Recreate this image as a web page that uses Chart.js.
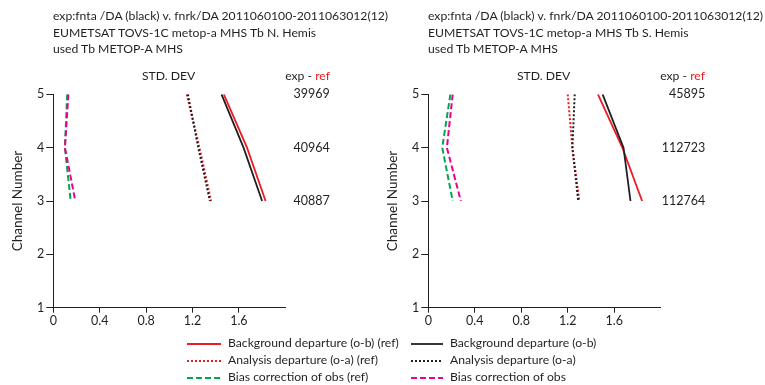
<!DOCTYPE html>
<html>
<head>
<meta charset="utf-8">
<script src="https://cdn.jsdelivr.net/npm/chart.js@4/dist/chart.umd.min.js"></script>
<style>
body { margin:0; width:765px; height:385px; background:#fff; font-family: Lato, sans-serif; color:#231f20; position:relative; overflow:hidden; }
canvas { position:absolute; top:0; }
.t { position:absolute; font-size:12.2px; line-height:16.5px; white-space:nowrap; }
.lg { position:absolute; font-size:12.2px; white-space:nowrap; }
.lg div { height:17px; line-height:17px; }
.lg svg { vertical-align:middle; margin-right:7px; }
</style>
</head>
<body>
<canvas id="nh" width="380" height="385" style="left:0"></canvas>
<canvas id="sh" width="385" height="385" style="left:380px"></canvas>

<div class="t" style="left:53px;top:8px">exp:fnta /DA (black) v. fnrk/DA 2011060100-2011063012(12)<br>EUMETSAT TOVS-1C metop-a MHS Tb N. Hemis<br>used Tb METOP-A MHS</div>
<div class="t" style="left:428px;top:8px">exp:fnta /DA (black) v. fnrk/DA 2011060100-2011063012(12)<br>EUMETSAT TOVS-1C metop-a MHS Tb S. Hemis<br>used Tb METOP-A MHS</div>
<div class="t" style="left:142px;top:68px">STD. DEV</div>
<div class="t" style="left:517px;top:68px">STD. DEV</div>
<div class="t" style="right:435px;top:68px">exp - <span style="color:#ed1c24">ref</span></div>
<div class="t" style="right:60px;top:68px">exp - <span style="color:#ed1c24">ref</span></div>
<div class="lg" id="lgLeft" style="left:187px;top:334px"></div>
<div class="lg" id="lgRight" style="left:411px;top:334px"></div>

<script>
var channels = [5, 4, 3];
var xTicks = [0, 0.4, 0.8, 1.2, 1.6];

// N. Hemis
var nhBgRef = [1.47, 1.67, 1.83];
var nhBgExp = [1.45, 1.64, 1.80];
var nhAnRef = [1.15, 1.26, 1.36];
var nhAnExp = [1.16, 1.25, 1.35];
var nhBcRef = [0.12, 0.10, 0.15];
var nhBcExp = [0.13, 0.10, 0.19];
var nhCounts = ["39969", "40964", "40887"];

// S. Hemis
var shBgRef = [1.46, 1.67, 1.84];
var shBgExp = [1.50, 1.68, 1.74];
var shAnRef = [1.20, 1.24, 1.30];
var shAnExp = [1.26, 1.24, 1.29];
var shBcRef = [0.19, 0.12, 0.21];
var shBcExp = [0.21, 0.16, 0.28];
var shCounts = ["45895", "112723", "112764"];

var RED = '#ed1c24', BLACK = '#231f20', GREEN = '#00a651', MAGENTA = '#ec008c';
var styles = {
    bgRef: { color: RED, dash: [], width: 1.8 },
    anRef: { color: RED, dash: [2, 2], width: 2 },
    bcRef: { color: GREEN, dash: [6, 3], width: 2 },
    bgExp: { color: BLACK, dash: [], width: 1.8 },
    anExp: { color: BLACK, dash: [2, 2], width: 2 },
    bcExp: { color: MAGENTA, dash: [6, 3], width: 2 }
};

Chart.defaults.font.family = 'Lato, sans-serif';
Chart.defaults.font.size = 12.5;
Chart.defaults.color = BLACK;

function pts(vals) {
    return channels.map(function(c, i) { return { x: vals[i], y: c }; });
}

function ds(vals, key) {
    var s = styles[key];
    return { data: pts(vals), borderColor: s.color, borderDash: s.dash, borderWidth: s.width,
             pointRadius: 0, showLine: true, fill: false, tension: 0 };
}

// counts drawn to the right of the plot, at channel positions
var countsPlugin = {
    id: 'counts',
    afterDraw: function(chart) {
        var counts = chart.options.plugins.counts.values;
        var ctx = chart.ctx, y = chart.scales.y;
        ctx.save();
        ctx.font = '12.5px Lato, sans-serif';
        ctx.fillStyle = BLACK;
        ctx.textAlign = 'right';
        ctx.textBaseline = 'middle';
        counts.forEach(function(c, i) {
            ctx.fillText(c, chart.chartArea.right + 44.5, y.getPixelForValue(channels[i]));
        });
        ctx.restore();
    }
};

function makePanel(id, series, counts, area, titlePad) {
    var cv = document.getElementById(id);
    var chart = new Chart(cv.getContext('2d'), {
        type: 'scatter',
        data: { datasets: [
            ds(series.bcExp, 'bcExp'), ds(series.bcRef, 'bcRef'),
            ds(series.anExp, 'anExp'), ds(series.anRef, 'anRef'),
            ds(series.bgExp, 'bgExp'), ds(series.bgRef, 'bgRef')
        ] },
        options: {
            responsive: false,
            animation: false,
            layout: { padding: { left: 0, right: cv.width - area.right, top: area.top, bottom: cv.height - area.bottom - 25 } },
            plugins: { legend: { display: false }, tooltip: { enabled: false }, counts: { values: counts } },
            scales: {
                x: {
                    type: 'linear', min: 0, max: 2,
                    afterBuildTicks: function(s) { s.ticks = xTicks.map(function(v) { return { value: v }; }); },
                    afterFit: function(s) { s.height = 25; },
                    ticks: { padding: 1, maxRotation: 0, callback: function(v) { return String(v); } },
                    grid: { drawOnChartArea: false, tickLength: 5, color: BLACK },
                    border: { color: BLACK, width: 1 }
                },
                y: {
                    type: 'linear', min: 1, max: 5,
                    afterFit: function(s) { s.width = area.left; },
                    ticks: { stepSize: 1, padding: 2 },
                    grid: { drawOnChartArea: false, tickLength: 7, color: BLACK },
                    border: { color: BLACK, width: 1 },
                    title: { display: true, text: 'Channel Number', font: { size: 13.5 }, padding: { top: titlePad, bottom: 0 } }
                }
            }
        },
        plugins: [countsPlugin]
    });
    // nudge padding so the plot area lands where the reference has it
    var a = chart.chartArea, p = chart.options.layout.padding;
    p.top += area.top - a.top;
    p.bottom += a.bottom - area.bottom;
    p.right += a.right - area.right;
    chart.update();
    return chart;
}

makePanel('nh', { bgRef: nhBgRef, bgExp: nhBgExp, anRef: nhAnRef, anExp: nhAnExp, bcRef: nhBcRef, bcExp: nhBcExp },
          nhCounts, { left: 53.3, right: 285.3, top: 94.3, bottom: 307.7 }, 10);
makePanel('sh', { bgRef: shBgRef, bgExp: shBgExp, anRef: shAnRef, anExp: shAnExp, bcRef: shBcRef, bcExp: shBcExp },
          shCounts, { left: 48.3, right: 280.7, top: 94.3, bottom: 307.7 }, 5);

// legend
var legendLeft = [['bgRef', 'Background departure (o-b) (ref)'], ['anRef', 'Analysis departure (o-a) (ref)'], ['bcRef', 'Bias correction of obs (ref)']];
var legendRight = [['bgExp', 'Background departure (o-b)'], ['anExp', 'Analysis departure (o-a)'], ['bcExp', 'Bias correction of obs']];

function legendHtml(items, w) {
    return items.map(function(it) {
        var s = styles[it[0]];
        return '<div><svg width="' + w + '" height="6"><line x1="0" y1="3" x2="' + w + '" y2="3" stroke="' + s.color +
               '" stroke-width="' + s.width + '" stroke-dasharray="' + (s.dash.length ? s.dash.join(',') : 'none') + '"/></svg>' + it[1] + '</div>';
    }).join('');
}
document.getElementById('lgLeft').innerHTML = legendHtml(legendLeft, 34);
document.getElementById('lgRight').innerHTML = legendHtml(legendRight, 32);
</script>
</body>
</html>
